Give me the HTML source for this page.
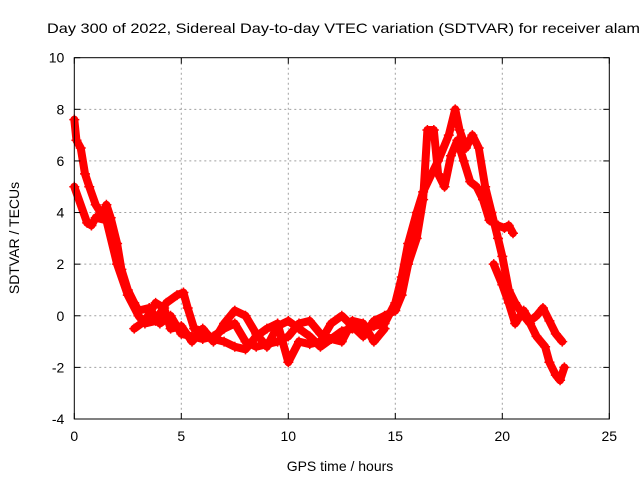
<!DOCTYPE html>
<html><head><meta charset="utf-8"><style>
body{margin:0;background:#fff;}
svg{display:block;font-family:"Liberation Sans",sans-serif;}
</style></head><body>
<svg id="chart" width="640" height="480">
<text x="47" y="33" font-size="14" textLength="593" lengthAdjust="spacingAndGlyphs">Day 300 of 2022, Sidereal Day-to-day VTEC variation (SDTVAR) for receiver alam</text>
<g id="grid"></g><g id="series"></g><g id="axes"></g>
<text x="340" y="471" font-size="14" text-anchor="middle">GPS time / hours</text>
<text transform="translate(19,238) rotate(-90)" font-size="14" text-anchor="middle">SDTVAR / TECUs</text>
</svg>
<script>
const xTicks=[0,5,10,15,20,25];
const yTicks=[-4,-2,0,2,4,6,8,10];
const traceA=[[0,7.6],[0.1,6.8],[0.3,6.5],[0.5,5.5],[0.7,5.0],[1.0,4.3],[1.3,3.9],[1.5,4.3],[1.7,3.8],[2.0,2.8],[2.2,1.8],[2.5,1.0],[2.8,0.5],[3.0,0.2],[3.5,0.3],[4.0,-0.3],[4.5,0.0],[5.0,-0.7],[5.5,-0.8],[6.0,-0.9],[6.5,-0.8],[7,-0.5],[7.5,-0.3],[8,-1.0],[8.5,-1.2],[9,-1.1],[9.5,-1.0],[10,-0.8],[10.5,-0.3],[11,-0.2],[11.5,-0.7],[12,-0.9],[12.5,-0.6],[13,-0.5],[13.5,-0.5],[14,-0.4],[14.5,-0.3],[15,0.5],[15.3,1.5],[15.6,2.8],[16,4.0],[16.3,4.8],[16.7,5.5],[17,6.0],[17.5,7.0],[17.8,8.0],[18,7.2],[18.3,6.5],[18.6,7.0],[18.9,6.5],[19.2,5.0],[19.5,4.0],[19.8,3.0],[20,2.3],[20.3,1.0],[20.6,0.5],[21,0.0],[21.3,-0.3],[21.6,-0.8],[22,-1.2],[22.2,-1.8],[22.5,-2.3],[22.7,-2.5],[22.9,-2.0]];
const traceB=[[0,5.0],[0.6,3.6],[0.8,3.5],[1.0,3.8],[1.5,3.7],[2,2.0],[2.5,0.8],[3,0.0],[3.3,-0.3],[3.8,-0.2],[4.3,0.5],[4.8,0.8],[5.1,0.9],[5.3,0.3],[5.6,-0.5],[6,-0.6],[6.5,-0.9],[7,-1.0],[7.5,-1.2],[8,-1.3],[8.5,-0.8],[9,-0.5],[9.5,-0.3],[10,-1.8],[10.5,-1.0],[11,-1.1],[11.5,-1.0],[12,-0.3],[12.5,0.0],[13,-0.4],[13.5,-0.8],[14,-0.2],[14.5,0.0],[15,0.2],[15.3,0.8],[15.6,2.0],[16,3.0],[16.3,4.5],[16.5,7.2],[16.8,7.2],[17,5.5],[17.3,5.0],[17.6,6.2],[17.9,6.8],[18.2,6.0],[18.5,5.2],[18.8,5.0],[19.1,4.5],[19.4,3.7],[19.8,3.5],[20.1,3.4],[20.3,3.5],[20.5,3.2]];
const traceC=[[19.6,2.0],[20.0,1.2],[20.3,0.5],[20.6,-0.3],[21.0,0.2],[21.3,-0.2],[21.6,0.0],[21.9,0.3],[22.2,-0.2],[22.5,-0.7],[22.8,-1.0]];
const traceD=[[2.8,-0.5],[3.3,-0.2],[3.8,0.5],[4.2,0.3],[4.5,-0.5],[5.0,-0.4],[5.5,-1.0],[6,-0.5],[6.5,-1.0],[7,-0.3],[7.5,0.2],[8,0.0],[8.5,-0.7],[9,-1.2],[9.5,-0.4],[10,-0.2],[10.5,-0.5],[11,-0.8],[11.5,-1.2],[12,-0.9],[12.5,-1.0],[13,-0.2],[13.5,-0.3],[14,-1.0],[14.5,-0.5]];
const traces=[traceA,traceB,traceC,traceD];
const X0=74.3,X1=609.3,Y0=419,Y1=57.7;
const xs=v=>X0+(v-0)/25*(X1-X0);
const ys=v=>Y0-(v+4)/14*(Y0-Y1);
const NS='http://www.w3.org/2000/svg';
function mk(t,a,p){const e=document.createElementNS(NS,t);for(const k in a)e.setAttribute(k,a[k]);p.appendChild(e);return e;}
const grid=document.getElementById('grid'),axes=document.getElementById('axes'),ser=document.getElementById('series');
xTicks.forEach(t=>{const x=xs(t);
 if(t>0&&t<25){const l=mk('line',{x1:x,x2:x,y1:Y1,y2:Y0,stroke:'#a0a0a0','stroke-dasharray':'2,3'},grid);
 
 }
 mk('line',{x1:x,x2:x,y1:Y0,y2:Y0-6,stroke:'#000'},axes);mk('line',{x1:x,x2:x,y1:Y1,y2:Y1+6,stroke:'#000'},axes);
 const tx=mk('text',{x:x,y:Y0+22,'font-size':14,'text-anchor':'middle'},axes);tx.textContent=t;
 
 });
yTicks.forEach(t=>{const y=ys(t);
 if(t>-4&&t<10){const l=mk('line',{x1:X0,x2:X1,y1:y,y2:y,stroke:'#a0a0a0','stroke-dasharray':'2,3'},grid);
 
 }
 mk('line',{x1:X0,x2:X0+6,y1:y,y2:y,stroke:'#000'},axes);mk('line',{x1:X1,x2:X1-6,y1:y,y2:y,stroke:'#000'},axes);
 const tx=mk('text',{x:X0-10,y:y+5,'font-size':14,'text-anchor':'end'},axes);tx.textContent=t;
 
 });
const fr=mk('rect',{x:X0,y:Y1,width:X1-X0,height:Y0-Y1,fill:'none',stroke:'#000'},axes);


traces.forEach((tr,i)=>{
 const g=mk('g',{},ser);
 
 
 mk('polyline',{points:tr.map(p=>xs(p[0])+','+ys(p[1])).join(' '),fill:'none',stroke:'#ff0000','stroke-width':8,'stroke-linejoin':'round','stroke-linecap':'round'},g);
 tr.forEach(p=>{const x=xs(p[0]),y=ys(p[1]);
  mk('path',{d:`M${x-5},${y}H${x+5}M${x},${y-5}V${y+5}`,stroke:'#ff0000','stroke-width':1.5},g);});
});
</script>
</body></html>
